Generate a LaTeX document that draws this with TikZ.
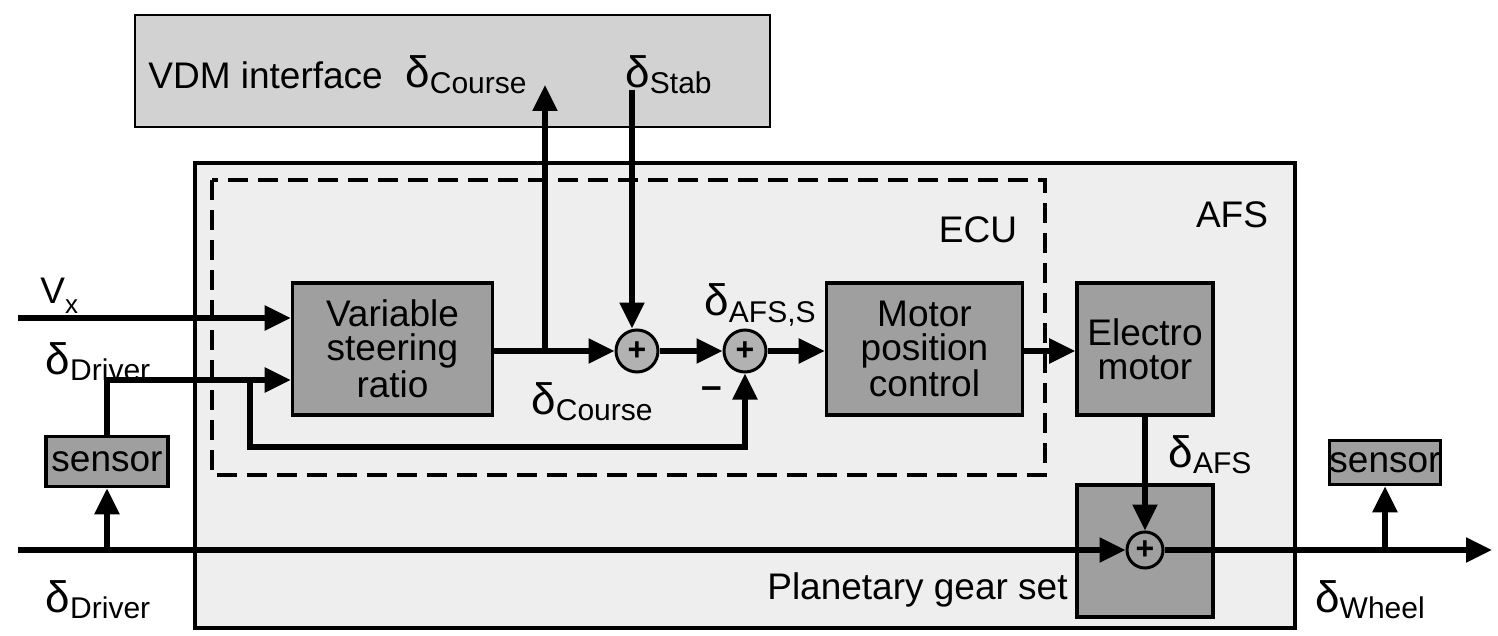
\documentclass[tikz,border=0pt]{standalone}
\usepackage{fontspec}
\setmainfont{Liberation Sans}
\usetikzlibrary{arrows.meta}
\newcommand{\dl}[1]{{\fontsize{22}{22}\selectfont δ}{\fontsize{15}{15}\selectfont\raisebox{-0.4ex}{#1}}}
\begin{document}
\begin{tikzpicture}[x=0.5pt,y=-0.5pt,
  blk/.style={draw=black,line width=1.8pt,fill=gray!75,align=center,font=\fontsize{18.5}{17}\selectfont,inner sep=0pt},
  sum/.style={circle,draw=black,line width=1.5pt,fill=gray!60,minimum size=21pt,inner sep=0pt,font=\bfseries\fontsize{16}{16}\selectfont},
  sig/.style={line width=2.8pt,-{Triangle[length=13pt,width=12pt]}},
  ln/.style={line width=2.8pt},
  lbl/.style={font=\fontsize{18.5}{20}\selectfont,inner sep=0pt}]
\useasboundingbox (0,0) rectangle (1498,636);
\fill[white] (0,0) rectangle (1498,636);
% containers
\draw[line width=1pt,fill=gray!35] (135,15) rectangle (770,127);
\draw[line width=1.8pt,fill=gray!13] (195,163) rectangle (1295,628);
\draw[line width=1.8pt,dash pattern=on 10pt off 5pt] (212,180) rectangle (1045,475);
\node[lbl] at (978,230) {ECU};
\node[lbl] at (1232,215) {AFS};
\node[lbl,anchor=west] at (148,75) {VDM interface};
\node[inner sep=0pt,anchor=west] at (405,75) {\dl{Course}};
\node[inner sep=0pt,anchor=west] at (625,75) {\dl{Stab}};
% blocks
\node[blk,minimum width=100pt,minimum height=66pt] (vsr) at (392.5,349) {Variable\\steering\\ratio};
\node[blk,minimum width=98pt,minimum height=66pt] (mpc) at (924.5,349) {Motor\\position\\control};
\node[blk,minimum width=68pt,minimum height=66pt] (em) at (1145,349) {Electro\\motor};
\node[blk,minimum width=68pt,minimum height=66pt] (pg) at (1145,551) {};
\node[blk,minimum width=61pt,minimum height=25pt] (s1) at (107,461.5) {sensor};
\node[blk,minimum width=54pt,minimum height=22pt] (s2) at (1385,462.5) {sensor};
\node[sum] (sum1) at (637,351) {+};
\node[sum] (sum2) at (745,351) {+};
\node[sum,fill=none,minimum size=18pt] (sum3) at (1145,550) {+};
% coordinates
\coordinate (in1) at (18,318);
\coordinate (in0) at (18,550);
\coordinate (out) at (1492,550);
\coordinate (br) at (545,351);
\coordinate (vdmc) at (545,85);
\coordinate (stab) at (632,90);
\coordinate (sp1) at (107,550);
\coordinate (sp2) at (1385,550);
\coordinate (fb) at (250,380);
% signals
\draw[sig] (in1) -- (vsr.west |- in1);
\draw[sig] (s1.north) |- (vsr.west |- fb);
\draw[sig] (fb) |- (745,447) -- (sum2.south);
\draw[ln] (vsr.east |- sum1) -- (br);
\draw[sig] (br) -- (sum1.west);
\draw[sig] (br) -- (vdmc);
\draw[sig] (stab) -- (stab |- sum1.north);
\draw[sig] (sum1) -- (sum2.west);
\draw[sig] (sum2) -- (mpc.west |- sum2);
\draw[sig] (mpc.east |- sum2) -- (em.west |- sum2);
\draw[sig] (em.south) -- (sum3.north);
\draw[sig] (in0) -- (sum3.west);
\draw[sig] (sum3.east) -- (out);
\draw[sig] (sp1) -- (s1.south);
\draw[sig] (sp2) -- (s2.south);
% labels
\node[lbl,anchor=west] at (40,296) {V\raisebox{-0.5ex}{\fontsize{13}{13}\selectfont x}};
\node[inner sep=0pt] at (98,362) {\dl{Driver}};
\node[inner sep=0pt] at (98,600) {\dl{Driver}};
\node[inner sep=0pt] at (1370,600) {\dl{Wheel}};
\node[inner sep=0pt] at (592,402) {\dl{Course}};
\node[inner sep=0pt] at (760,305) {\dl{AFS,S}};
\node[inner sep=0pt] at (1210,455) {\dl{AFS}};
\node[lbl] at (712,393) {\bfseries –};
\node[lbl,anchor=east] at (1068,590) {Planetary gear set};
\end{tikzpicture}
\end{document}
